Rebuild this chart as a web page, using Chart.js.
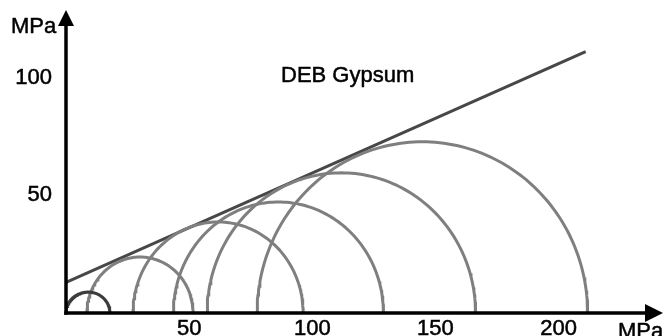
<!DOCTYPE html>
<html>
<head>
<meta charset="utf-8">
<script src="https://cdn.jsdelivr.net/npm/chart.js@4/dist/chart.umd.min.js"></script>
<style>
  html, body { margin: 0; padding: 0; background: #fff; }
  #wrap { width: 665px; height: 336px; }
</style>
</head>
<body>
<div id="wrap"><canvas id="c" width="665" height="336"></canvas></div>
<script>
// Mohr circles for DEB gypsum: minor / major principal stress and peak shear (MPa)
const sigma3 = [0, 8.5, 27.2, 43.6, 57.3, 77.6];
const sigma1 = [17.9, 51.6, 96.3, 128.9, 166.3, 211.8];
const tauTop = [8.9, 23.8, 38.7, 47.2, 59.6, 72.8];

// Failure envelope end points (normal stress, shear stress)
const envelopeX = [0, 211];
const envelopeY = [13.0, 111.2];

const xTicks = [50, 100, 150, 200];
const yTicks = [50, 100];
const titleText = 'DEB Gypsum';
const unitText = 'MPa';

const FONT = "'Liberation Sans', Arial, Helvetica, sans-serif";
const TEXT_STROKE = 0.5;

// Sample a half-ellipse from sigma3 to sigma1 with the given peak shear
function arcPoints(i) {
  const c = (sigma1[i] + sigma3[i]) / 2;
  const r = (sigma1[i] - sigma3[i]) / 2;
  const h = tauTop[i];
  const pts = [];
  for (let k = 0; k <= 120; k++) {
    const t = Math.PI * k / 120;
    pts.push({ x: c - r * Math.cos(t), y: h * Math.sin(t) });
  }
  return pts;
}

const datasets = sigma3.map((_, i) => ({
  data: arcPoints(i),
  showLine: true,
  borderColor: i === 0 ? '#3c3c3c' : '#7f7f7f',
  borderWidth: 3,
  pointRadius: 0,
  fill: false,
  tension: 0
}));

datasets.push({
  data: envelopeX.map((x, i) => ({ x, y: envelopeY[i] })),
  showLine: true,
  borderColor: '#474747',
  borderWidth: 3,
  pointRadius: 0,
  fill: false
});

// Axes with arrowheads, unit labels and the material caption
const decorations = {
  id: 'decorations',
  afterDatasetsDraw(chart) {
    const ctx = chart.ctx;
    const xs = chart.scales.x, ys = chart.scales.y;
    const x0 = xs.getPixelForValue(0);
    const y0 = ys.getPixelForValue(0);
    ctx.save();
    ctx.strokeStyle = '#000';
    ctx.fillStyle = '#000';
    ctx.lineWidth = 3.5;
    ctx.lineCap = 'butt';
    // y axis
    ctx.beginPath();
    ctx.moveTo(x0, y0 + 1.75);
    ctx.lineTo(x0, 22);
    ctx.stroke();
    ctx.beginPath();
    ctx.moveTo(x0, 10);
    ctx.lineTo(x0 - 8, 26);
    ctx.lineTo(x0 + 8, 26);
    ctx.closePath();
    ctx.fill();
    // x axis
    ctx.beginPath();
    ctx.moveTo(x0 - 1.75, y0);
    ctx.lineTo(648, y0);
    ctx.stroke();
    ctx.beginPath();
    ctx.moveTo(663, y0);
    ctx.lineTo(645, y0 - 9);
    ctx.lineTo(645, y0 + 9);
    ctx.closePath();
    ctx.fill();

    ctx.font = '22px ' + FONT;
    ctx.textAlign = 'left';
    ctx.textBaseline = 'alphabetic';
    ctx.lineWidth = TEXT_STROKE;
    ctx.lineJoin = 'round';
    const label = (t, x, y) => { ctx.fillText(t, x, y); ctx.strokeText(t, x, y); };
    label(unitText, 11, 33);
    label(unitText, 618, 338);
    label(titleText, 281, 81.5);
    ctx.restore();
  }
};

const tickStyle = {
  color: '#000',
  font: { family: FONT, size: 22 },
  textStrokeColor: '#000',
  textStrokeWidth: TEXT_STROKE,
  autoSkip: false
};

new Chart(document.getElementById('c'), {
  type: 'scatter',
  data: { datasets },
  options: {
    responsive: false,
    animation: false,
    layout: { padding: { top: 12, right: 3, left: 0, bottom: 0 } },
    plugins: { legend: { display: false }, tooltip: { enabled: false } },
    scales: {
      x: {
        type: 'linear', min: 0, max: 242,
        grid: { display: false, drawTicks: false },
        border: { display: false },
        afterBuildTicks: s => { s.ticks = xTicks.map(v => ({ value: v })); },
        afterFit: s => { s.height = 23; s.paddingLeft = 0; s.paddingRight = 0; },
        ticks: Object.assign({ padding: 3, maxRotation: 0 }, tickStyle)
      },
      y: {
        type: 'linear', min: 0, max: 128,
        grid: { display: false, drawTicks: false },
        border: { display: false },
        afterBuildTicks: s => { s.ticks = yTicks.map(v => ({ value: v })); },
        afterFit: s => { s.width = 66; s.paddingTop = 0; s.paddingBottom = 0; },
        ticks: Object.assign({ padding: 14 }, tickStyle)
      }
    }
  },
  plugins: [decorations]
});
</script>
</body>
</html>
